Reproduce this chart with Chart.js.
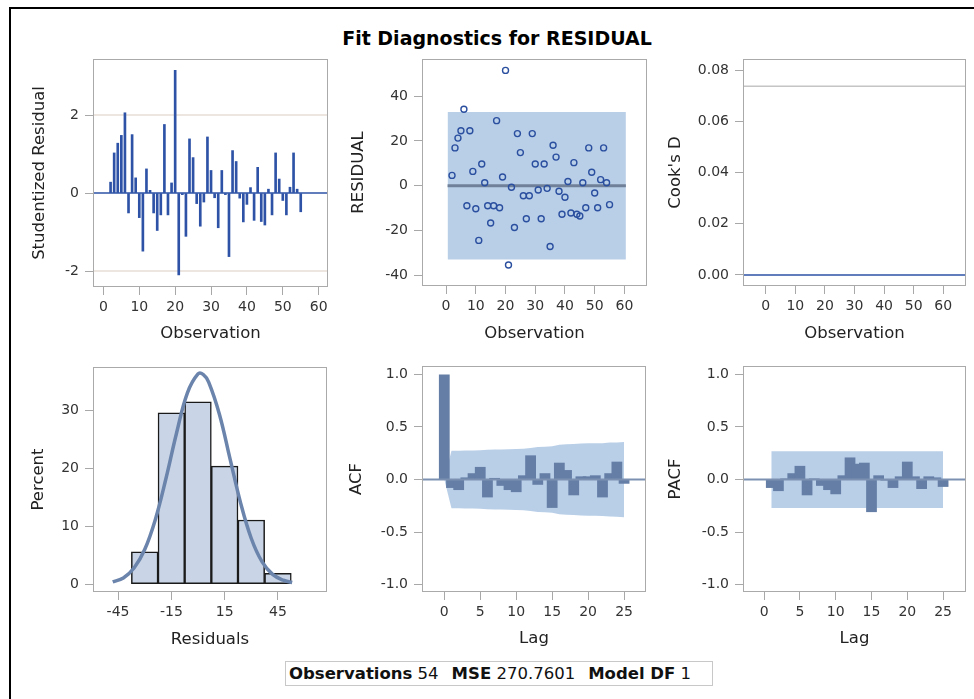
<!DOCTYPE html>
<html lang="en">
<head>
<meta charset="UTF-8">
<title>Fit Diagnostics for RESIDUAL</title>
<script src="https://cdn.jsdelivr.net/npm/chart.js"></script>
<style>
  body { margin: 0; width: 974px; height: 699px; overflow: hidden; background: #fff; position: relative; }
  #frame { position: absolute; left: 9px; top: 7px; width: 1000px; height: 800px; border: 2px solid #000; }
  #title { position: absolute; left: 0; width: 994px; top: 27px; text-align: center;
           font: bold 19px "DejaVu Sans", sans-serif; color: #000; line-height: 22px; }
  .panel { position: absolute; }
  #footer { position: absolute; left: 285px; top: 661px; width: 423px; height: 23px;
            border: 1px solid #c8c8c8; font: 16.5px "DejaVu Sans", sans-serif; color: #111;
            line-height: 23px; white-space: nowrap; padding-left: 3px; box-sizing: content-box; }
  #footer b { font-weight: bold; }
  #footer .gap { margin-left: 13px; }
</style>
</head>
<body>
<div id="frame"></div>
<div id="title">Fit Diagnostics for RESIDUAL</div>
<div id="footer"><b>Observations</b> 54<b class="gap">MSE</b> 270.7601<b class="gap">Model DF</b> 1</div>

<script>
// observation numbers
const obsNum = [2, 3, 4, 5, 6, 7, 8, 9, 10, 11, 12, 13, 14, 15, 16, 17, 18, 19, 20, 21,
                22, 23, 24, 25, 26, 27, 28, 29, 30, 31, 32, 33, 34, 35, 36, 37, 38, 39, 40, 41,
                42, 43, 44, 45, 46, 47, 48, 49, 50, 51, 52, 53, 54, 55];

// studentized residuals
const studResid = [0.28, 1.03, 1.28, 1.48, 2.06, -0.51, 1.50, 0.39, -0.63, -1.49,
                   0.62, 0.07, -0.51, -0.96, -0.56, 1.76, -0.56, 0.26, 3.15, -2.10,
                   -0.04, -1.11, 1.39, 0.91, -0.27, -0.85, -0.23, 1.44, 0.58, -0.12,
                   -0.89, 0.58, -0.04, -1.63, 1.09, 0.81, -0.13, -0.74, -0.29, 0.14,
                   -0.70, 0.66, -0.73, -0.82, 0.10, -0.56, 1.03, 0.36, -0.19, -0.56,
                   0.15, 1.03, 0.10, -0.48];

// raw residuals
const residuals = [4.6, 16.9, 21.3, 24.6, 34.2, -9.0, 24.6, 6.4, -10.3, -24.5,
                   9.7, 1.3, -9.0, -16.7, -9.0, 29.1, -9.9, 3.9, 51.6, -35.5,
                   -0.7, -18.7, 23.3, 14.8, -4.5, -14.8, -4.5, 23.3, 9.7, -1.9,
                   -14.8, 9.7, -1.2, -27.2, 18.1, 12.8, -2.5, -12.8, -5.2, 1.9,
                   -12.2, 10.3, -12.8, -13.6, 1.3, -9.9, 16.9, 6.0, -3.3, -9.9,
                   2.7, 16.9, 1.3, -8.5];

const studRefLines = [-2, 2];
const residBandX = [0.5, 60.5];
const residBandHi = [33, 33];
const residBandLo = [-33, -33];
const residMean = [0, 0];
const cooksCutoff = 0.0737;

// residual histogram (percent) and fitted normal curve
const histMid = [-30, -15, 0, 15, 30, 45];
const histPct = [5.6, 29.6, 31.5, 20.4, 11.1, 1.9];
const normX = [-48, -42, -36, -30, -24, -18, -12, -6, 0, 3, 6, 12, 18, 24, 30, 36, 42, 48, 53];
const normPct = [0.4, 1.1, 2.8, 6.0, 11.2, 18.3, 26.2, 33.0, 36.3, 36.2, 34.9, 29.4, 21.7, 14.0, 7.9, 3.9, 1.7, 0.7, 0.3];

// autocorrelation of residuals
const acfLags = [0, 1, 2, 3, 4, 5, 6, 7, 8, 9, 10, 11, 12, 13, 14, 15, 16, 17, 18, 19, 20, 21, 22, 23, 24, 25];
const acf = [1.0, -0.08, -0.10, 0.02, 0.06, 0.12, -0.17, 0.015, -0.06, -0.10, -0.12, 0.04, 0.23,
             -0.05, 0.06, -0.27, 0.16, 0.09, -0.15, 0.03, 0.03, 0.04, -0.17, 0.06, 0.17, -0.04];
const acfBand = [0, 0.273, 0.274, 0.275, 0.276, 0.278, 0.283, 0.285, 0.286, 0.288, 0.29, 0.293, 0.30,
                 0.31, 0.312, 0.316, 0.33, 0.335, 0.337, 0.343, 0.344, 0.345, 0.346, 0.352, 0.353, 0.358];

// partial autocorrelation
const pacfLags = [1, 2, 3, 4, 5, 6, 7, 8, 9, 10, 11, 12, 13, 14, 15, 16, 17, 18, 19, 20, 21, 22, 23, 24, 25];
const pacf = [-0.08, -0.11, 0.01, 0.06, 0.13, -0.15, 0.01, -0.06, -0.10, -0.14, 0.04, 0.21, 0.15,
              0.16, -0.31, 0.04, -0.01, -0.08, 0.03, 0.17, 0.03, -0.09, 0.03, 0.02, -0.07];
const pacfBandX = [1, 25];
const pacfBandHi = [0.27, 0.27];
const pacfBandLo = [-0.27, -0.27];

// tick values
const obsTicks = [0, 10, 20, 30, 40, 50, 60];
const studTicks = [-2, 0, 2];
const residTicks = [-40, -20, 0, 20, 40];
const cooksTicks = [0, 0.02, 0.04, 0.06, 0.08];
const histXTicks = [-45, -15, 15, 45];
const histYTicks = [0, 10, 20, 30];
const lagTicks = [0, 5, 10, 15, 20, 25];
const corrTicks = [-1, -0.5, 0, 0.5, 1];

const AX = 84, AY = 64, PT = 12, PR = 6;
const tickFont = { family: 'DejaVu Sans', size: 14 };
const titleFont = { family: 'DejaVu Sans', size: 16.5 };
const lh = titleFont.size * 1.2;

const spikeBlue = '#2d52a6';
const barSlate = '#657ea6';
const bandBlue = '#b9cfe8';

// horizontal reference lines across the plot area
const refLines = {
  id: 'refLines',
  defaults: { lines: [] },
  beforeDatasetsDraw(chart, args, opts) { drawRefs(chart, opts.lines.filter(l => !l.top)); },
  afterDatasetsDraw(chart, args, opts) { drawRefs(chart, opts.lines.filter(l => l.top)); }
};
function drawRefs(chart, lines) {
  const { ctx, chartArea: a } = chart;
  const y = chart.scales.y;
  ctx.save();
  lines.forEach(l => {
    const py = y.getPixelForValue(l.value);
    ctx.strokeStyle = l.color;
    ctx.lineWidth = l.width;
    ctx.beginPath();
    ctx.moveTo(a.left, py);
    ctx.lineTo(a.right, py);
    ctx.stroke();
  });
  ctx.restore();
}

// grey frame round each plot area
const plotBox = {
  id: 'plotBox',
  afterDraw(chart) {
    const { ctx, chartArea: a } = chart;
    ctx.save();
    ctx.strokeStyle = '#aaaaaa';
    ctx.lineWidth = 1;
    ctx.strokeRect(Math.round(a.left) + 0.5, Math.round(a.top) + 0.5,
                   Math.round(a.right - a.left) - 1, Math.round(a.bottom - a.top) - 1);
    ctx.restore();
  }
};
Chart.register(refLines, plotBox);

function axis(isX, min, max, ticks, fmt, title, pad) {
  return {
    type: 'linear', min: min, max: max, offset: false,
    border: { display: false },
    grid: { drawOnChartArea: false, drawTicks: true, tickLength: 8, color: '#a8a8a8', offset: false },
    ticks: { font: tickFont, color: '#333', padding: isX ? 4 : 6, autoSkip: false, maxRotation: 0,
             callback: v => fmt(v) },
    afterBuildTicks: s => { s.ticks = ticks.map(v => ({ value: v })); },
    afterFit: s => {
      if (isX) s.height = AY; else s.width = AX;
      s.paddingLeft = 0; s.paddingRight = 0; s.paddingTop = 0; s.paddingBottom = 0;
    },
    title: { display: true, text: title, font: titleFont, color: '#222',
             padding: isX ? { top: 0, bottom: pad } : { top: pad, bottom: 0 } }
  };
}

const f0 = v => String(v);
const f1 = v => v.toFixed(1);
const f2 = v => v.toFixed(2);

function panel(id, box, yTitleX, xTitleY, cfg) {
  const left = box.l - AX, top = box.t - PT;
  const w = box.r - box.l + AX + PR, h = box.b - box.t + PT + AY;
  const div = document.createElement('div');
  div.className = 'panel';
  div.style.left = left + 'px';
  div.style.top = top + 'px';
  const canvas = document.createElement('canvas');
  canvas.id = id;
  canvas.width = w;
  canvas.height = h;
  div.appendChild(canvas);
  document.body.appendChild(div);

  const yPad = yTitleX - left - lh / 2;
  const xPad = top + h - xTitleY - lh / 2;
  const x = axis(true, cfg.x[0], cfg.x[1], cfg.x[2], cfg.x[3], cfg.x[4], xPad);
  const y = axis(false, cfg.y[0], cfg.y[1], cfg.y[2], cfg.y[3], cfg.y[4], yPad);

  return new Chart(canvas, {
    type: cfg.type,
    data: { datasets: cfg.datasets },
    options: {
      responsive: false,
      animation: false,
      layout: { padding: { left: 0, top: PT, right: PR, bottom: 0 } },
      scales: { x: x, y: y },
      plugins: { legend: { display: false }, tooltip: { enabled: false },
                 refLines: { lines: cfg.lines || [] } }
    }
  });
}

const pts = (xs, ys) => xs.map((v, i) => ({ x: v, y: ys[i] }));

// studentized residuals by observation
panel('studPlot', { l: 93, t: 59, r: 328, b: 287 }, 40, 334, {
  type: 'bar',
  x: [-2.9, 62.6, obsTicks, f0, 'Observation'],
  y: [-2.41, 3.44, studTicks, f0, 'Studentized Residual'],
  datasets: [{ data: pts(obsNum, studResid), backgroundColor: spikeBlue, borderWidth: 0, barThickness: 2 }],
  lines: [
    { value: studRefLines[0], color: '#e6dcd6', width: 1.5 },
    { value: studRefLines[1], color: '#e6dcd6', width: 1.5 },
    { value: 0, color: spikeBlue, width: 1.5, top: true }
  ]
});

// raw residuals with +/- 2 RMSE band
panel('residPlot', { l: 422, t: 59, r: 647, b: 286 }, 359, 334, {
  type: 'scatter',
  x: [-8.1, 67.6, obsTicks, f0, 'Observation'],
  y: [-44.9, 56.7, residTicks, f0, 'RESIDUAL'],
  datasets: [
    { data: pts(obsNum, residuals), pointStyle: 'circle', pointRadius: 3, borderWidth: 1.4,
      borderColor: '#2b4f9f', backgroundColor: 'rgba(0,0,0,0)', order: 1 },
    { type: 'line', data: pts(residBandX, residMean), borderColor: '#6f8098',
      borderWidth: 3, pointRadius: 0, order: 2 },
    { type: 'line', data: pts(residBandX, residBandHi), borderWidth: 0, pointRadius: 0,
      backgroundColor: bandBlue, fill: '+1', order: 3 },
    { type: 'line', data: pts(residBandX, residBandLo), borderWidth: 0, pointRadius: 0, order: 4 }
  ]
});

// Cook's D
panel('cooksPlot', { l: 743, t: 59, r: 966, b: 286 }, 676, 334, {
  type: 'scatter',
  x: [-7.7, 67.7, obsTicks, f0, 'Observation'],
  y: [-0.0043, 0.0843, cooksTicks, f2, "Cook's D"],
  datasets: [],
  lines: [
    { value: cooksCutoff, color: '#a8a8a8', width: 1 },
    { value: 0, color: spikeBlue, width: 1.5, top: true }
  ]
});

// histogram of residuals with normal density
panel('histPlot', { l: 93, t: 367, r: 327, b: 592 }, 39, 640, {
  type: 'bar',
  x: [-59.1, 72.6, histXTicks, f0, 'Residuals'],
  y: [-1.33, 37.5, histYTicks, f0, 'Percent'],
  datasets: [
    { type: 'line', data: pts(normX, normPct), borderColor: '#6b84ac', borderWidth: 3.5,
      pointRadius: 0, tension: 0.4, order: 1 },
    { data: pts(histMid, histPct), backgroundColor: '#c9d5e6', borderColor: '#1a1a1a',
      borderWidth: 1.5, borderSkipped: false, barPercentage: 1, categoryPercentage: 1, order: 2 }
  ]
});

// autocorrelation function
panel('acfPlot', { l: 422, t: 366, r: 646, b: 592 }, 357, 639, {
  type: 'bar',
  x: [-3.1, 28.05, lagTicks, f0, 'Lag'],
  y: [-1.07, 1.08, corrTicks, f1, 'ACF'],
  datasets: [
    { data: pts(acfLags, acf), backgroundColor: barSlate, borderWidth: 0,
      barPercentage: 1.5, categoryPercentage: 1, order: 1 },
    { type: 'line', data: pts(acfLags, acfBand), borderWidth: 0, pointRadius: 0,
      backgroundColor: bandBlue, fill: '+1', order: 3 },
    { type: 'line', data: pts(acfLags, acfBand.map(v => -v)), borderWidth: 0, pointRadius: 0, order: 4 }
  ],
  lines: [{ value: 0, color: '#7c91b2', width: 2, top: true }]
});

// partial autocorrelation function
panel('pacfPlot', { l: 743, t: 366, r: 966, b: 592 }, 676, 639, {
  type: 'bar',
  x: [-2.95, 28.2, lagTicks, f0, 'Lag'],
  y: [-1.07, 1.08, corrTicks, f1, 'PACF'],
  datasets: [
    { data: pts(pacfLags, pacf), backgroundColor: barSlate, borderWidth: 0,
      barPercentage: 1.5, categoryPercentage: 1, order: 1 },
    { type: 'line', data: pts(pacfBandX, pacfBandHi), borderWidth: 0, pointRadius: 0,
      backgroundColor: bandBlue, fill: '+1', order: 3 },
    { type: 'line', data: pts(pacfBandX, pacfBandLo), borderWidth: 0, pointRadius: 0, order: 4 }
  ],
  lines: [{ value: 0, color: '#7c91b2', width: 2, top: true }]
});
</script>
</body>
</html>
